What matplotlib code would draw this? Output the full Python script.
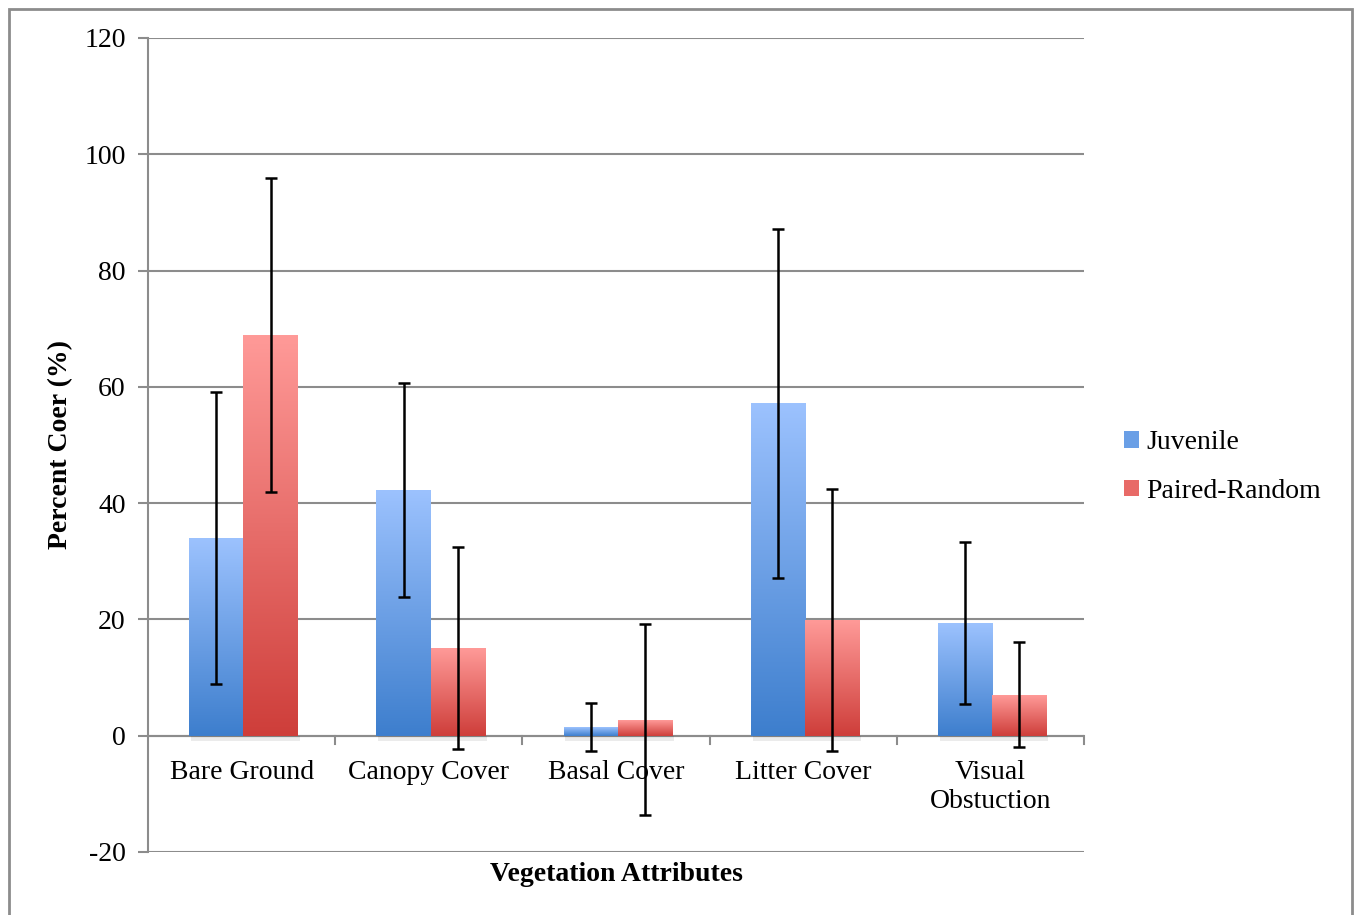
import numpy as np
import matplotlib
matplotlib.use('Agg')
import matplotlib.pyplot as plt
from matplotlib.patches import Rectangle, Patch
from matplotlib.colors import LinearSegmentedColormap

plt.rcParams['font.family'] = ['Liberation Serif', 'DejaVu Serif']
plt.rcParams['axes.unicode_minus'] = False

# data
categories = ['Bare Ground', 'Canopy Cover', 'Basal Cover', 'Litter Cover', 'Visual\nObstuction']
series = ['Juvenile', 'Paired-Random']
juvenile = [34.0, 42.3, 1.5, 57.2, 19.4]
juvenile_err = [25.1, 18.4, 4.1, 30.0, 13.9]
paired = [68.9, 15.1, 2.75, 19.9, 7.05]
paired_err = [27.0, 17.4, 16.4, 22.5, 9.0]
yticks = [-20, 0, 20, 40, 60, 80, 100, 120]

blue_cmap = LinearSegmentedColormap.from_list('b', ['#3d7ecd', '#9cc2fe'])
red_cmap = LinearSegmentedColormap.from_list('r', ['#ce3e3a', '#ff9a98'])

FS = 20

fig = plt.figure(figsize=(13.55, 9.15), dpi=100)
ax = fig.add_axes([0.1092, 0.0689, 0.6908, 0.8896])

x = np.arange(len(categories))
w = 0.29

grad = np.linspace(0, 1, 256).reshape(-1, 1)

def gradient_bars(xpos, vals, cmap):
    bars = ax.bar(xpos, vals, w, color='none', zorder=3)
    for b in bars:
        bx, by = b.get_x(), b.get_y()
        bw, bh = b.get_width(), b.get_height()
        # soft shadow under the bar
        ax.add_patch(Rectangle((bx + 0.01, by - 0.9), bw, 0.9, color='#000000',
                               alpha=0.08, lw=0, zorder=2.5))
        im = ax.imshow(grad, cmap=cmap, aspect='auto', origin='lower',
                       extent=[bx, bx + bw, by, by + bh], zorder=3)
        im.set_clip_path(b)
    return bars

gradient_bars(x - w / 2 + 0.01, juvenile, blue_cmap)
gradient_bars(x + w / 2 + 0.01, paired, red_cmap)

ax.errorbar(x - w / 2 + 0.01, juvenile, yerr=juvenile_err, fmt='none', ecolor='black',
            elinewidth=1.8, capsize=4.5, capthick=1.8, zorder=5)
ax.errorbar(x + w / 2 + 0.01, paired, yerr=paired_err, fmt='none', ecolor='black',
            elinewidth=1.8, capsize=4.5, capthick=1.8, zorder=5)

ax.set_xlim(-0.5, len(categories) - 0.5)
ax.set_ylim(-20, 120)
ax.set_yticks(yticks)
ax.grid(axis='y', color='#8c8c8c', lw=1.5, zorder=0)
ax.tick_params(axis='y', length=7, width=1.5, color='#8c8c8c', labelsize=FS, pad=9)

# category axis at y=0 with ticks between groups
ax.set_xticks([])
ax.axhline(0, color='#8c8c8c', lw=1.5, zorder=1)
for b in np.arange(0.5, len(categories), 1.0):
    ax.plot([b, b], [0, -1.4], color='#8c8c8c', lw=1.5, clip_on=False, zorder=1)
for i, c in enumerate(categories):
    ax.text(x[i], -4.1, c, ha='center', va='top', fontsize=FS, linespacing=1.25)

for s in ['top', 'right', 'bottom']:
    ax.spines[s].set_visible(False)
ax.spines['left'].set_color('#8c8c8c')
ax.spines['left'].set_linewidth(1.5)

ax.set_ylabel('Percent Coer (%)', fontsize=FS, fontweight='bold', labelpad=8)
ax.set_xlabel('Vegetation Attributes', fontsize=FS, fontweight='bold', labelpad=7)

handles = [Patch(facecolor='#6a9fe6', edgecolor='none'),
           Patch(facecolor='#e86a67', edgecolor='none')]
fig.legend(handles, series, loc='center left', bbox_to_anchor=(0.811, 0.4895),
           frameon=False, fontsize=FS, handlelength=0.55, handleheight=0.55,
           handletextpad=0.25, labelspacing=0.85)

# outer frame
fig.patches.append(Rectangle((9 / 1355, -0.05), (1352 - 9) / 1355, 1.05 - 9 / 915,
                             transform=fig.transFigure, fill=False,
                             edgecolor='#8c8c8c', lw=2))

fig.savefig('out.png', dpi=100)
